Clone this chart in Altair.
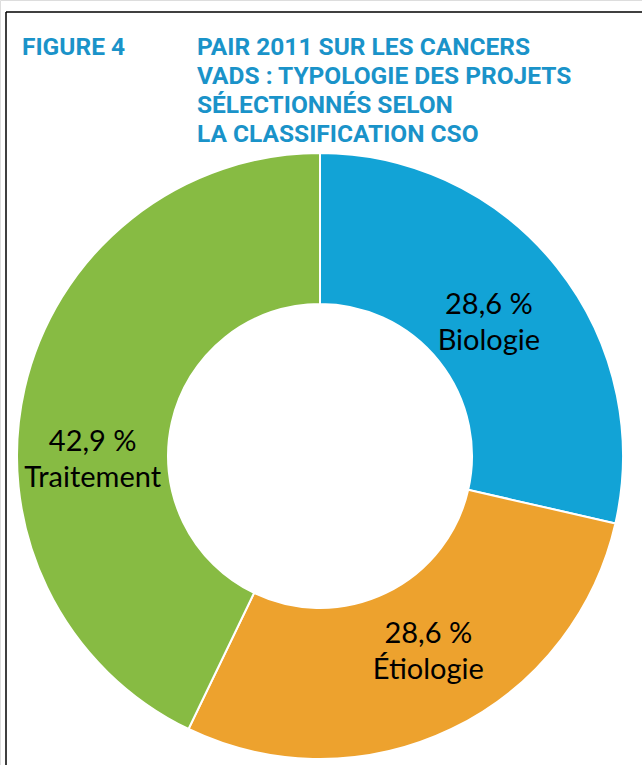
import altair as alt
import pandas as pd

categories = ["Biologie", "Étiologie", "Traitement"]
shares = [28.6, 28.6, 42.9]
colors = ["#12A3D6", "#EDA22E", "#87BB43"]

fig_label = ["FIGURE 4"]
title_lines = ["PAIR 2011 SUR LES CANCERS", "VADS : TYPOLOGIE DES PROJETS",
               "SÉLECTIONNÉS SELON", "LA CLASSIFICATION CSO"]

df = pd.DataFrame({"category": categories, "share": shares})

CX, CY = 320, 456
TITLE_COLOR = "#1A93C9"
LABEL_FONT = "Lato"
TITLE_FONT = "Roboto"

base = alt.Chart(df).transform_window(
    rank="row_number()", cum="sum(share)",
    frame=[None, 0]
).transform_joinaggregate(
    total="sum(share)"
).transform_calculate(
    start="(datum.cum - datum.share) / datum.total",
    end="datum.cum / datum.total",
    mid="(datum.cum - datum.share / 2) / datum.total",
    label="replace(format(datum.share, '.1f'), '.', ',') + ' %\\n' + datum.category",
)

tscale = alt.Scale(domain=[0, 1])

arcs = base.mark_arc(
    outerRadius=303, innerRadius=152, stroke="white", strokeWidth=2, x=CX, y=CY
).encode(
    theta=alt.Theta("start:Q", scale=tscale),
    theta2="end:Q",
    color=alt.Color("category:N", scale=alt.Scale(domain=categories, range=colors), legend=None),
)

def label_layer(cat, radius, dx, dy):
    return base.mark_text(
        radius=radius, x=CX, y=CY, dx=dx, dy=dy, font=LABEL_FONT, fontSize=29,
        lineBreak="\n", lineHeight=36, color="black", align="center", baseline="middle"
    ).encode(
        theta=alt.Theta("mid:Q", scale=tscale), text="label:N"
    ).transform_filter(alt.datum.category == cat)

labels = alt.layer(
    label_layer("Biologie", 216, 0, -16),
    label_layer("Étiologie", 222, 12, -22),
    label_layer("Traitement", 227, -6, 37),
)

fig_df = pd.DataFrame({"t": fig_label})
fig_text = alt.Chart(fig_df).mark_text(
    font=TITLE_FONT, fontSize=24.5, fontWeight="bold", color=TITLE_COLOR,
    align="left", baseline="alphabetic", x=22, y=55
).encode(text="t:N")

title_df = pd.DataFrame({"t": ["\n".join(title_lines)]})
title_text = alt.Chart(title_df).mark_text(
    font=TITLE_FONT, fontSize=24.5, fontWeight="bold", color=TITLE_COLOR,
    align="left", baseline="alphabetic", x=197, y=55, lineBreak="\n", lineHeight=29
).encode(text="t:N")

frame_left = alt.Chart(fig_df).mark_rule(color="black", strokeWidth=1.5).encode(
    x=alt.value(6), y=alt.value(12), y2=alt.value(765)
)
frame_top = alt.Chart(fig_df).mark_rule(color="black", strokeWidth=1.5).encode(
    x=alt.value(6), x2=alt.value(642), y=alt.value(12)
)

chart = alt.layer(
    arcs, labels, fig_text, title_text, frame_left, frame_top
).properties(
    width=642, height=765, autosize="none", padding=0
).configure_view(stroke=None).configure(background="white")

chart.save("out.html", embed_options={"renderer": "svg", "actions": False})
